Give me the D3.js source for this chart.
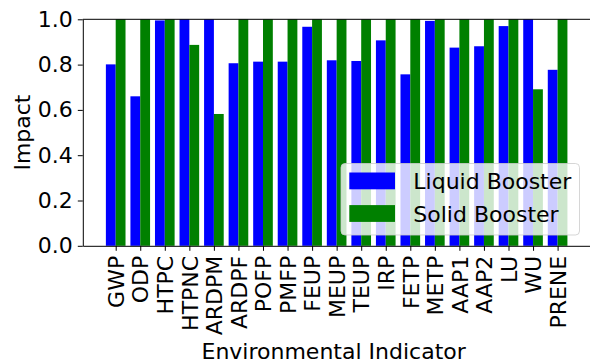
<!DOCTYPE html>
<html>
<head>
<meta charset="utf-8">
<script src="https://cdn.jsdelivr.net/npm/d3@7/dist/d3.min.js"></script>
<style>
  html, body { margin: 0; padding: 0; background: #fff; }
  svg { display: block; font-family: "DejaVu Sans", sans-serif; }
</style>
</head>
<body>
<svg id="chart" width="590" height="363"></svg>
<script>
// Environmental indicators on the x axis
const categories = ["GWP", "ODP", "HTPC", "HTPNC", "ARDPM", "ARDPF", "POFP", "PMFP", "FEUP",
  "MEUP", "TEUP", "IRP", "FETP", "METP", "AAP1", "AAP2", "LU", "WU", "PRENE"];

// Normalised impact per booster type
const liquidBooster = [0.801, 0.660, 0.995, 1.0, 1.0, 0.806, 0.813, 0.813, 0.967,
  0.819, 0.816, 0.907, 0.757, 0.993, 0.875, 0.881, 0.970, 1.0, 0.777];
const solidBooster = [1.0, 1.0, 1.0, 0.887, 0.582, 1.0, 1.0, 1.0, 1.0,
  1.0, 1.0, 1.0, 1.0, 1.0, 1.0, 1.0, 1.0, 0.691, 1.0];

const yTicks = [0.0, 0.2, 0.4, 0.6, 0.8, 1.0];

const seriesNames = ["Liquid Booster", "Solid Booster"];
const seriesColors = ["#0000ff", "#008000"];

const svg = d3.select("#chart");
const fontSize = 22;
const barWidth = 0.4;

const plot = { left: 82.8, right: 590.5, top: 19.3, bottom: 245.8 };

const n = categories.length;
const pad = (n - 1 + 2 * barWidth) * 0.05;
const x = d3.scaleLinear()
  .domain([-barWidth - pad, n - 1 + barWidth + pad])
  .range([plot.left, plot.right]);
const y = d3.scaleLinear().domain([0, 1]).range([plot.bottom, plot.top]);

// Bars: liquid left of the tick, solid right of it
const series = [liquidBooster, solidBooster];
series.forEach((vals, s) => {
  svg.append("g").selectAll("rect")
    .data(vals)
    .join("rect")
    .attr("x", (d, i) => x(i - barWidth + s * barWidth))
    .attr("width", (d, i) => x(i + s * barWidth) - x(i - barWidth + s * barWidth))
    .attr("y", d => y(d))
    .attr("height", d => y(0) - y(d))
    .attr("fill", seriesColors[s]);
});

// Y axis
const yAxis = d3.axisLeft(y)
  .tickValues(yTicks)
  .tickFormat(d3.format(".1f"))
  .tickSizeInner(5)
  .tickSizeOuter(0)
  .tickPadding(5);
const gy = svg.append("g").attr("transform", `translate(${plot.left},0)`).call(yAxis);
gy.selectAll("text").attr("font-size", fontSize).attr("fill", "#000")
  .attr("font-family", "DejaVu Sans");
gy.selectAll("line").attr("stroke", "#000");
gy.select(".domain").attr("stroke", "#000");

// X axis with rotated category labels
const xAxis = d3.axisBottom(x)
  .tickValues(d3.range(n))
  .tickFormat(i => categories[i])
  .tickSizeInner(5)
  .tickSizeOuter(0);
const gx = svg.append("g").attr("transform", `translate(0,${plot.bottom})`).call(xAxis);
gx.selectAll("line").attr("stroke", "#000");
gx.select(".domain").attr("stroke", "#000");
gx.selectAll("text")
  .attr("font-size", fontSize)
  .attr("font-family", "DejaVu Sans")
  .attr("fill", "#000")
  .attr("transform", "rotate(-90)")
  .attr("x", -10)
  .attr("y", 0)
  .attr("dy", "0.35em")
  .attr("text-anchor", "end");

// Top spine
svg.append("line")
  .attr("x1", plot.left).attr("x2", plot.right)
  .attr("y1", plot.top).attr("y2", plot.top)
  .attr("stroke", "#000");

// Axis titles
svg.append("text")
  .attr("transform", `translate(30,${(plot.top + plot.bottom) / 2}) rotate(-90)`)
  .attr("text-anchor", "middle")
  .attr("font-size", fontSize)
  .text("Impact");

svg.append("text")
  .attr("x", (plot.left + plot.right) / 2 - 3)
  .attr("y", 359)
  .attr("text-anchor", "middle")
  .attr("font-size", fontSize)
  .text("Environmental Indicator");

// Legend
const legend = svg.append("g");
legend.append("rect")
  .attr("x", 341).attr("y", 163.5)
  .attr("width", 238.5).attr("height", 71.5)
  .attr("rx", 4)
  .attr("fill", "#fff").attr("fill-opacity", 0.8)
  .attr("stroke", "#ccc").attr("stroke-opacity", 0.8);
seriesNames.forEach((name, s) => {
  const yy = 172.5 + s * 32.6;
  legend.append("rect")
    .attr("x", 349.3).attr("y", yy)
    .attr("width", 45.7).attr("height", 16.8)
    .attr("fill", seriesColors[s]);
  legend.append("text")
    .attr("x", 413.3).attr("y", yy + 16.8)
    .attr("font-size", fontSize)
    .text(name);
});
</script>
</body>
</html>
